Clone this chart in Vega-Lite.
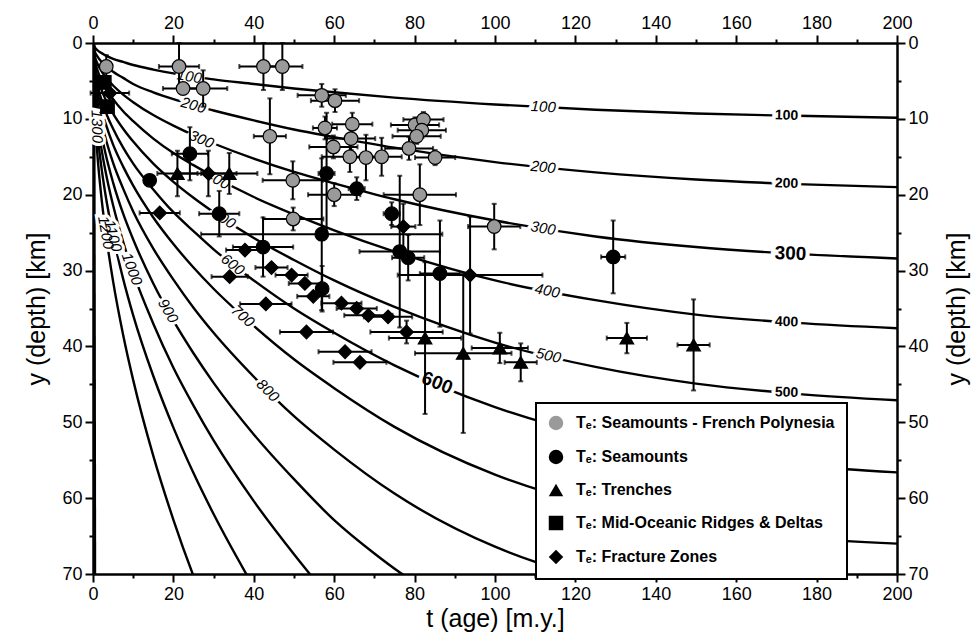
{
"$schema": "https://vega.github.io/schema/vega-lite/v6.json",
"width": 804, "height": 531,
"autosize": {"type": "none"},
"padding": {"left": 93, "top": 43, "right": 81, "bottom": 70},
"background": "white",
"config": {
 "view": {"stroke": null},
 "font": "Liberation Sans",
 "axis": {"domainColor": "black", "domainWidth": 2.5, "tickColor": "black", "tickWidth": 2, "labelColor": "black", "labelFont": "Liberation Sans", "labelFontSize": 18, "titleFont": "Liberation Sans", "titleFontSize": 25, "titleFontWeight": "normal", "titleColor": "black", "grid": false, "labelOverlap": false, "labelFlush": false, "labelPadding": 3},
 "legend": {"strokeColor": "black", "strokeWidth": 2, "fillColor": "white", "padding": 12, "rowPadding": 14, "labelFont": "Liberation Sans", "labelFontSize": 16, "labelFontWeight": "bold", "labelColor": "black", "symbolSize": 210, "symbolStrokeColor": "black", "symbolStrokeWidth": 1.2, "labelLimit": 400, "labelOffset": 12}
},
"datasets": {
 "curves": [
  {"T":100,"t":0,"d":0},{"T":100,"t":0.5,"d":0.6},{"T":100,"t":1,"d":0.9},{"T":100,"t":2,"d":1.3},{"T":100,"t":3,"d":1.6},{"T":100,"t":5,"d":2.1},{"T":100,"t":7.5,"d":2.5},{"T":100,"t":10,"d":2.9},{"T":100,"t":15,"d":3.5},{"T":100,"t":20,"d":4.0},{"T":100,"t":25,"d":4.4},{"T":100,"t":30,"d":4.8},{"T":100,"t":40,"d":5.4},{"T":100,"t":50,"d":6.0},{"T":100,"t":60,"d":6.5},{"T":100,"t":75,"d":7.2},{"T":100,"t":100,"d":8.1},{"T":100,"t":125,"d":8.8},{"T":100,"t":150,"d":9.3},{"T":100,"t":175,"d":9.6},{"T":100,"t":200,"d":9.85},
  {"T":200,"t":0,"d":0},{"T":200,"t":0.5,"d":1.2},{"T":200,"t":1,"d":1.7},{"T":200,"t":2,"d":2.4},{"T":200,"t":3,"d":2.9},{"T":200,"t":5,"d":3.8},{"T":200,"t":7.5,"d":4.6},{"T":200,"t":10,"d":5.4},{"T":200,"t":15,"d":6.5},{"T":200,"t":20,"d":7.4},{"T":200,"t":25,"d":8.2},{"T":200,"t":30,"d":8.9},{"T":200,"t":40,"d":10.2},{"T":200,"t":50,"d":11.4},{"T":200,"t":60,"d":12.4},{"T":200,"t":75,"d":13.8},{"T":200,"t":100,"d":15.7},{"T":200,"t":125,"d":17.05},{"T":200,"t":150,"d":18.0},{"T":200,"t":175,"d":18.6},{"T":200,"t":200,"d":19.0},
  {"T":300,"t":0,"d":0},{"T":300,"t":0.5,"d":1.8},{"T":300,"t":1,"d":2.6},{"T":300,"t":2,"d":3.6},{"T":300,"t":3,"d":4.4},{"T":300,"t":5,"d":5.6},{"T":300,"t":7.5,"d":6.8},{"T":300,"t":10,"d":7.8},{"T":300,"t":15,"d":9.5},{"T":300,"t":20,"d":10.9},{"T":300,"t":25,"d":12.15},{"T":300,"t":30,"d":13.25},{"T":300,"t":40,"d":15.25},{"T":300,"t":50,"d":17.0},{"T":300,"t":60,"d":18.5},{"T":300,"t":75,"d":20.6},{"T":300,"t":100,"d":23.4},{"T":300,"t":125,"d":25.5},{"T":300,"t":150,"d":26.9},{"T":300,"t":175,"d":27.8},{"T":300,"t":200,"d":28.4},
  {"T":400,"t":0,"d":0},{"T":400,"t":0.5,"d":2.4},{"T":400,"t":1,"d":3.4},{"T":400,"t":2,"d":4.8},{"T":400,"t":3,"d":5.8},{"T":400,"t":5,"d":7.4},{"T":400,"t":7.5,"d":9.0},{"T":400,"t":10,"d":10.3},{"T":400,"t":15,"d":12.6},{"T":400,"t":20,"d":14.5},{"T":400,"t":25,"d":16.1},{"T":400,"t":30,"d":17.6},{"T":400,"t":40,"d":20.3},{"T":400,"t":50,"d":22.6},{"T":400,"t":60,"d":24.7},{"T":400,"t":75,"d":27.5},{"T":400,"t":100,"d":31.3},{"T":400,"t":125,"d":33.9},{"T":400,"t":150,"d":35.8},{"T":400,"t":175,"d":36.9},{"T":400,"t":200,"d":37.6},
  {"T":500,"t":0,"d":0},{"T":500,"t":0.5,"d":3.0},{"T":500,"t":1,"d":4.3},{"T":500,"t":2,"d":6.0},{"T":500,"t":3,"d":7.3},{"T":500,"t":5,"d":9.3},{"T":500,"t":7.5,"d":11.3},{"T":500,"t":10,"d":13.0},{"T":500,"t":15,"d":15.9},{"T":500,"t":20,"d":18.3},{"T":500,"t":25,"d":20.4},{"T":500,"t":30,"d":22.3},{"T":500,"t":40,"d":25.7},{"T":500,"t":50,"d":28.6},{"T":500,"t":60,"d":31.3},{"T":500,"t":75,"d":34.8},{"T":500,"t":100,"d":39.5},{"T":500,"t":125,"d":42.7},{"T":500,"t":150,"d":44.9},{"T":500,"t":175,"d":46.25},{"T":500,"t":200,"d":47.1},
  {"T":600,"t":0,"d":0},{"T":600,"t":0.5,"d":3.7},{"T":600,"t":1,"d":5.2},{"T":600,"t":2,"d":7.3},{"T":600,"t":3,"d":8.9},{"T":600,"t":5,"d":11.3},{"T":600,"t":7.5,"d":13.8},{"T":600,"t":10,"d":15.9},{"T":600,"t":15,"d":19.3},{"T":600,"t":20,"d":22.3},{"T":600,"t":25,"d":24.8},{"T":600,"t":30,"d":27.2},{"T":600,"t":40,"d":31.3},{"T":600,"t":50,"d":35.0},{"T":600,"t":60,"d":38.2},{"T":600,"t":75,"d":42.5},{"T":600,"t":100,"d":48.0},{"T":600,"t":125,"d":51.8},{"T":600,"t":150,"d":54.2},{"T":600,"t":175,"d":55.7},{"T":600,"t":200,"d":56.6},
  {"T":700,"t":0,"d":0},{"T":700,"t":0.5,"d":4.4},{"T":700,"t":1,"d":6.1},{"T":700,"t":2,"d":8.6},{"T":700,"t":3,"d":10.4},{"T":700,"t":5,"d":13.4},{"T":700,"t":7.5,"d":16.3},{"T":700,"t":10,"d":18.8},{"T":700,"t":15,"d":23.0},{"T":700,"t":20,"d":26.5},{"T":700,"t":25,"d":29.6},{"T":700,"t":30,"d":32.4},{"T":700,"t":40,"d":37.3},{"T":700,"t":50,"d":41.7},{"T":700,"t":60,"d":45.5},{"T":700,"t":75,"d":50.6},{"T":700,"t":100,"d":56.9},{"T":700,"t":125,"d":61.0},{"T":700,"t":150,"d":63.6},{"T":700,"t":175,"d":65.2},{"T":700,"t":200,"d":66.0},
  {"T":800,"t":0,"d":0},{"T":800,"t":0.5,"d":5.1},{"T":800,"t":1,"d":7.2},{"T":800,"t":2,"d":10.1},{"T":800,"t":3,"d":12.3},{"T":800,"t":5,"d":15.8},{"T":800,"t":7.5,"d":19.2},{"T":800,"t":10,"d":22.2},{"T":800,"t":15,"d":27.1},{"T":800,"t":20,"d":31.2},{"T":800,"t":25,"d":34.9},{"T":800,"t":30,"d":38.2},{"T":800,"t":40,"d":44.0},{"T":800,"t":50,"d":49.2},{"T":800,"t":60,"d":53.6},{"T":800,"t":75,"d":59.4},{"T":800,"t":100,"d":66.4},{"T":800,"t":110,"d":68.4},{"T":800,"t":125,"d":70.7},{"T":800,"t":135,"d":71.9},
  {"T":900,"t":0,"d":0},{"T":900,"t":0.5,"d":5.9},{"T":900,"t":1,"d":8.3},{"T":900,"t":2,"d":11.7},{"T":900,"t":3,"d":14.3},{"T":900,"t":5,"d":18.4},{"T":900,"t":7.5,"d":22.5},{"T":900,"t":10,"d":25.9},{"T":900,"t":15,"d":31.7},{"T":900,"t":20,"d":36.6},{"T":900,"t":25,"d":40.9},{"T":900,"t":30,"d":44.8},{"T":900,"t":40,"d":51.6},{"T":900,"t":50,"d":57.5},{"T":900,"t":60,"d":62.9},{"T":900,"t":70,"d":67.3},{"T":900,"t":76.6,"d":69.9},{"T":900,"t":85,"d":72.7},
  {"T":1000,"t":0,"d":0},{"T":1000,"t":0.5,"d":6.8},{"T":1000,"t":1,"d":9.6},{"T":1000,"t":2,"d":13.6},{"T":1000,"t":3,"d":16.6},{"T":1000,"t":5,"d":21.4},{"T":1000,"t":7.5,"d":26.2},{"T":1000,"t":10,"d":30.3},{"T":1000,"t":15,"d":37.0},{"T":1000,"t":20,"d":42.8},{"T":1000,"t":25,"d":47.8},{"T":1000,"t":30,"d":52.4},{"T":1000,"t":40,"d":60.4},{"T":1000,"t":50,"d":67.4},{"T":1000,"t":57,"d":72.0},
  {"T":1100,"t":0,"d":0},{"T":1100,"t":0.5,"d":8.0},{"T":1100,"t":1,"d":11.35},{"T":1100,"t":2,"d":16.0},{"T":1100,"t":3,"d":19.65},{"T":1100,"t":5,"d":25.4},{"T":1100,"t":7.5,"d":31.1},{"T":1100,"t":10,"d":35.9},{"T":1100,"t":15,"d":43.9},{"T":1100,"t":20,"d":50.7},{"T":1100,"t":25,"d":56.7},{"T":1100,"t":30,"d":62.1},{"T":1100,"t":40,"d":71.75},
  {"T":1200,"t":0,"d":0},{"T":1200,"t":0.5,"d":9.94},{"T":1200,"t":1,"d":14.05},{"T":1200,"t":2,"d":19.88},{"T":1200,"t":3,"d":24.34},{"T":1200,"t":5,"d":31.43},{"T":1200,"t":7.5,"d":38.49},{"T":1200,"t":10,"d":44.44},{"T":1200,"t":15,"d":54.43},{"T":1200,"t":20,"d":62.85},{"T":1200,"t":25,"d":70.27},{"T":1200,"t":27,"d":73.0},
  {"T":1300,"t":0.3,"d":0},{"T":1300,"t":0.5,"d":70}
 ],
 "labels": [
  {"text":"100","t":24,"d":4.4,"slope_deg":9,"grp":"inline"},
  {"text":"200","t":25,"d":8.2,"slope_deg":16,"grp":"inline"},
  {"text":"300","t":27,"d":12.7,"slope_deg":23,"grp":"inline"},
  {"text":"400","t":31,"d":18.0,"slope_deg":28,"grp":"inline"},
  {"text":"500","t":32.5,"d":23.1,"slope_deg":33,"grp":"inline"},
  {"text":"600","t":34.8,"d":29.2,"slope_deg":38,"grp":"inline"},
  {"text":"700","t":37.3,"d":36.0,"slope_deg":42,"grp":"inline"},
  {"text":"800","t":43.5,"d":45.8,"slope_deg":45,"grp":"inline"},
  {"text":"900","t":18.7,"d":35.3,"slope_deg":60,"grp":"inline"},
  {"text":"1000","t":9.7,"d":29.8,"slope_deg":70,"grp":"inline"},
  {"text":"1100","t":5.0,"d":25.4,"slope_deg":76,"grp":"inline"},
  {"text":"1200","t":3.2,"d":25.0,"slope_deg":80,"grp":"inline"},
  {"text":"1300","t":1.0,"d":11.0,"slope_deg":88,"grp":"inline"},
  {"text":"100","t":112,"d":8.4,"slope_deg":3,"grp":"inline"},
  {"text":"200","t":112,"d":16.35,"slope_deg":6,"grp":"inline"},
  {"text":"300","t":112,"d":24.4,"slope_deg":9,"grp":"inline"},
  {"text":"400","t":113,"d":32.65,"slope_deg":11,"grp":"inline"},
  {"text":"500","t":113.3,"d":41.2,"slope_deg":13,"grp":"inline"},
  {"text":"600","t":85.6,"d":44.8,"slope_deg":22,"grp":"major"},
  {"text":"300","t":173.5,"d":27.75,"slope_deg":2,"grp":"major"},
  {"text":"100","t":172.5,"d":9.57,"slope_deg":2,"grp":"edge"},
  {"text":"200","t":172.5,"d":18.54,"slope_deg":2,"grp":"edge"},
  {"text":"400","t":172.5,"d":36.8,"slope_deg":2,"grp":"edge"},
  {"text":"500","t":172.5,"d":46.1,"slope_deg":2,"grp":"edge"}
 ],
 "obs": [
  {"type":"Seamounts - French Polynesia","t":3.3,"d":3.1,"ex":1,"ey":1.5},
  {"type":"Seamounts - French Polynesia","t":21.4,"d":3.1,"ex":5,"ey":3.1},
  {"type":"Seamounts - French Polynesia","t":42.4,"d":3.1,"ex":6,"ey":3.1},
  {"type":"Seamounts - French Polynesia","t":47.1,"d":3.1,"ex":5,"ey":3.1},
  {"type":"Seamounts - French Polynesia","t":22.4,"d":6.0,"ex":5,"ey":0},
  {"type":"Seamounts - French Polynesia","t":27.4,"d":6.0,"ex":6,"ey":2.4},
  {"type":"Seamounts - French Polynesia","t":56.9,"d":6.9,"ex":6,"ey":1.5},
  {"type":"Seamounts - French Polynesia","t":60.2,"d":7.6,"ex":6,"ey":1.5},
  {"type":"Seamounts - French Polynesia","t":57.7,"d":11.2,"ex":3,"ey":1.5},
  {"type":"Seamounts - French Polynesia","t":64.5,"d":10.7,"ex":5,"ey":1.5},
  {"type":"Seamounts - French Polynesia","t":64.2,"d":12.6,"ex":6,"ey":1.5},
  {"type":"Seamounts - French Polynesia","t":59.8,"d":13.7,"ex":6,"ey":1.5},
  {"type":"Seamounts - French Polynesia","t":63.9,"d":15.0,"ex":7,"ey":2},
  {"type":"Seamounts - French Polynesia","t":67.9,"d":15.1,"ex":5,"ey":3},
  {"type":"Seamounts - French Polynesia","t":71.8,"d":15.0,"ex":5,"ey":2.5},
  {"type":"Seamounts - French Polynesia","t":78.6,"d":13.9,"ex":6,"ey":1.5},
  {"type":"Seamounts - French Polynesia","t":80.1,"d":10.8,"ex":6,"ey":1},
  {"type":"Seamounts - French Polynesia","t":82.2,"d":10.1,"ex":5,"ey":1},
  {"type":"Seamounts - French Polynesia","t":81.8,"d":11.5,"ex":6,"ey":1},
  {"type":"Seamounts - French Polynesia","t":80.5,"d":12.3,"ex":6,"ey":1},
  {"type":"Seamounts - French Polynesia","t":85.1,"d":15.1,"ex":5,"ey":1},
  {"type":"Seamounts - French Polynesia","t":44.0,"d":12.3,"ex":4,"ey":5},
  {"type":"Seamounts - French Polynesia","t":49.7,"d":18.1,"ex":7.5,"ey":2.5},
  {"type":"Seamounts - French Polynesia","t":60.0,"d":20.0,"ex":6.5,"ey":1.5},
  {"type":"Seamounts - French Polynesia","t":81.3,"d":20.0,"ex":9,"ey":4},
  {"type":"Seamounts - French Polynesia","t":49.8,"d":23.2,"ex":7.5,"ey":1.5},
  {"type":"Seamounts - French Polynesia","t":99.8,"d":24.2,"ex":6.5,"ey":3},
  {"type":"Seamounts","t":14.1,"d":18.1,"ex":0,"ey":0},
  {"type":"Seamounts","t":24.1,"d":14.6,"ex":4.5,"ey":3.5},
  {"type":"Seamounts","t":31.4,"d":22.5,"ex":5,"ey":3},
  {"type":"Seamounts","t":42.3,"d":26.9,"ex":7.5,"ey":3.9},
  {"type":"Seamounts","t":56.9,"d":25.2,"ex":30,"ey":10},
  {"type":"Seamounts","t":57.0,"d":32.4,"ex":0,"ey":3},
  {"type":"Seamounts","t":58.1,"d":17.2,"ex":2,"ey":8},
  {"type":"Seamounts","t":65.6,"d":19.2,"ex":2,"ey":1.5},
  {"type":"Seamounts","t":74.3,"d":22.5,"ex":2,"ey":1.5},
  {"type":"Seamounts","t":76.3,"d":27.5,"ex":10,"ey":10},
  {"type":"Seamounts","t":78.4,"d":28.3,"ex":4,"ey":3},
  {"type":"Seamounts","t":86.3,"d":30.4,"ex":5,"ey":7},
  {"type":"Seamounts","t":129.4,"d":28.2,"ex":3,"ey":4.8},
  {"type":"Trenches","t":21.0,"d":17.2,"ex":5,"ey":3},
  {"type":"Trenches","t":33.9,"d":17.2,"ex":7,"ey":2.7},
  {"type":"Trenches","t":82.6,"d":38.9,"ex":9,"ey":10},
  {"type":"Trenches","t":92.1,"d":40.9,"ex":12,"ey":10.5},
  {"type":"Trenches","t":101.2,"d":40.2,"ex":7,"ey":2},
  {"type":"Trenches","t":106.4,"d":42.1,"ex":4,"ey":2.5},
  {"type":"Trenches","t":132.8,"d":38.9,"ex":5,"ey":2},
  {"type":"Trenches","t":149.4,"d":39.8,"ex":4,"ey":6},
  {"type":"Mid-Oceanic Ridges & Deltas","t":2.8,"d":5.2,"ex":0,"ey":0},
  {"type":"Mid-Oceanic Ridges & Deltas","t":3.6,"d":8.4,"ex":0,"ey":0},
  {"type":"Fracture Zones","t":4.2,"d":6.6,"ex":4.8,"ey":0},
  {"type":"Fracture Zones","t":16.6,"d":22.4,"ex":5,"ey":0},
  {"type":"Fracture Zones","t":28.7,"d":17.2,"ex":7,"ey":3},
  {"type":"Fracture Zones","t":37.8,"d":27.3,"ex":4.7,"ey":0},
  {"type":"Fracture Zones","t":34.0,"d":30.8,"ex":4.5,"ey":0},
  {"type":"Fracture Zones","t":44.4,"d":29.6,"ex":4,"ey":0},
  {"type":"Fracture Zones","t":49.4,"d":30.6,"ex":4,"ey":0},
  {"type":"Fracture Zones","t":52.7,"d":31.7,"ex":4,"ey":0},
  {"type":"Fracture Zones","t":54.8,"d":33.4,"ex":4,"ey":0},
  {"type":"Fracture Zones","t":43.0,"d":34.4,"ex":6.4,"ey":0},
  {"type":"Fracture Zones","t":61.8,"d":34.3,"ex":5,"ey":0},
  {"type":"Fracture Zones","t":65.6,"d":35.0,"ex":5,"ey":0},
  {"type":"Fracture Zones","t":68.5,"d":35.9,"ex":6,"ey":0},
  {"type":"Fracture Zones","t":73.4,"d":36.1,"ex":6,"ey":0},
  {"type":"Fracture Zones","t":53.1,"d":38.1,"ex":6.6,"ey":0},
  {"type":"Fracture Zones","t":62.7,"d":40.7,"ex":6.6,"ey":0},
  {"type":"Fracture Zones","t":66.4,"d":42.1,"ex":6.6,"ey":0},
  {"type":"Fracture Zones","t":78.0,"d":38.1,"ex":9,"ey":1.5},
  {"type":"Fracture Zones","t":77.2,"d":24.2,"ex":3,"ey":3},
  {"type":"Fracture Zones","t":93.8,"d":30.6,"ex":18,"ey":7.7}
 ]
},
"layer": [
 {
  "data": {"name": "curves"},
  "mark": {"type": "line", "color": "black", "strokeWidth": 2.4, "interpolate": "monotone", "clip": true},
  "encoding": {
   "x": {"field": "t", "type": "quantitative", "scale": {"domain": [0, 200], "nice": false, "zero": false},
    "axis": {"orient": "bottom", "title": "t (age) [m.y.]", "values": [0,10,20,30,40,50,60,70,80,90,100,110,120,130,140,150,160,170,180,190,200], "labelExpr": "datum.value % 20 === 0 ? datum.label : ''", "tickSize": {"condition": {"test": "datum.value % 20 === 0", "value": 8}, "value": 4}, "titlePadding": 3}},
   "y": {"field": "d", "type": "quantitative", "scale": {"domain": [0, 70], "reverse": true, "nice": false, "zero": false},
    "axis": {"orient": "left", "title": "y (depth) [km]", "values": [0,5,10,15,20,25,30,35,40,45,50,55,60,65,70], "labelExpr": "datum.value % 10 === 0 ? datum.label : ''", "tickSize": {"condition": {"test": "datum.value % 10 === 0", "value": 8}, "value": 4}, "titlePadding": 12}},
   "detail": {"field": "T", "type": "nominal"}
  }
 },
 {
  "data": {"name": "labels"},
  "transform": [{"filter": "datum.grp === 'inline'"}],
  "mark": {"type": "text", "fill": "white", "stroke": "white", "strokeWidth": 6, "fontSize": 15, "fontStyle": "italic", "font": "Liberation Sans", "align": "center", "baseline": "middle"},
  "encoding": {
   "x": {"field": "t", "type": "quantitative", "scale": {"domain": [0, 200], "nice": false, "zero": false},
    "axis": {"orient": "top", "title": null, "values": [0,10,20,30,40,50,60,70,80,90,100,110,120,130,140,150,160,170,180,190,200], "labelExpr": "datum.value % 20 === 0 ? datum.label : ''", "tickSize": {"condition": {"test": "datum.value % 20 === 0", "value": 8}, "value": 4}}},
   "y": {"field": "d", "type": "quantitative", "scale": {"domain": [0, 70], "reverse": true, "nice": false, "zero": false},
    "axis": {"orient": "right", "title": "y (depth) [km]", "titleAngle": 270, "titleBaseline": "top", "titlePadding": 16, "values": [0,5,10,15,20,25,30,35,40,45,50,55,60,65,70], "labelExpr": "datum.value % 10 === 0 ? datum.label : ''", "tickSize": {"condition": {"test": "datum.value % 10 === 0", "value": 8}, "value": 4}}},
   "text": {"field": "text"},
   "angle": {"field": "slope_deg", "type": "quantitative", "scale": null}
  }
 },
 {
  "data": {"name": "labels"},
  "transform": [{"filter": "datum.grp === 'inline'"}],
  "mark": {"type": "text", "fill": "black", "fontSize": 15, "fontStyle": "italic", "font": "Liberation Sans", "align": "center", "baseline": "middle"},
  "encoding": {
   "x": {"field": "t", "type": "quantitative", "scale": {"domain": [0, 200], "nice": false, "zero": false}, "axis": null},
   "y": {"field": "d", "type": "quantitative", "scale": {"domain": [0, 70], "reverse": true, "nice": false, "zero": false}, "axis": null},
   "text": {"field": "text"},
   "angle": {"field": "slope_deg", "type": "quantitative", "scale": null}
  }
 },
 {
  "data": {"name": "labels"},
  "transform": [{"filter": "datum.grp === 'edge'"}],
  "mark": {"type": "text", "fill": "white", "stroke": "white", "strokeWidth": 7, "fontSize": 14, "fontWeight": "bold", "font": "Liberation Sans", "align": "center", "baseline": "middle"},
  "encoding": {
   "x": {"field": "t", "type": "quantitative", "scale": {"domain": [0, 200], "nice": false, "zero": false}, "axis": null},
   "y": {"field": "d", "type": "quantitative", "scale": {"domain": [0, 70], "reverse": true, "nice": false, "zero": false}, "axis": null},
   "text": {"field": "text"},
   "angle": {"field": "slope_deg", "type": "quantitative", "scale": null}
  }
 },
 {
  "data": {"name": "labels"},
  "transform": [{"filter": "datum.grp === 'edge'"}],
  "mark": {"type": "text", "fill": "black", "fontSize": 14, "fontWeight": "bold", "font": "Liberation Sans", "align": "center", "baseline": "middle"},
  "encoding": {
   "x": {"field": "t", "type": "quantitative", "scale": {"domain": [0, 200], "nice": false, "zero": false}, "axis": null},
   "y": {"field": "d", "type": "quantitative", "scale": {"domain": [0, 70], "reverse": true, "nice": false, "zero": false}, "axis": null},
   "text": {"field": "text"},
   "angle": {"field": "slope_deg", "type": "quantitative", "scale": null}
  }
 },
 {
  "data": {"name": "labels"},
  "transform": [{"filter": "datum.grp === 'major'"}],
  "mark": {"type": "text", "fill": "white", "stroke": "white", "strokeWidth": 8, "fontSize": 19, "fontWeight": "bold", "font": "Liberation Sans", "align": "center", "baseline": "middle"},
  "encoding": {
   "x": {"field": "t", "type": "quantitative", "scale": {"domain": [0, 200], "nice": false, "zero": false}, "axis": null},
   "y": {"field": "d", "type": "quantitative", "scale": {"domain": [0, 70], "reverse": true, "nice": false, "zero": false}, "axis": null},
   "text": {"field": "text"},
   "angle": {"field": "slope_deg", "type": "quantitative", "scale": null}
  }
 },
 {
  "data": {"name": "labels"},
  "transform": [{"filter": "datum.grp === 'major'"}],
  "mark": {"type": "text", "fill": "black", "fontSize": 19, "fontWeight": "bold", "font": "Liberation Sans", "align": "center", "baseline": "middle"},
  "encoding": {
   "x": {"field": "t", "type": "quantitative", "scale": {"domain": [0, 200], "nice": false, "zero": false}, "axis": null},
   "y": {"field": "d", "type": "quantitative", "scale": {"domain": [0, 70], "reverse": true, "nice": false, "zero": false}, "axis": null},
   "text": {"field": "text"},
   "angle": {"field": "slope_deg", "type": "quantitative", "scale": null}
  }
 },
 {
  "data": {"name": "obs"},
  "transform": [{"filter": "datum.ex > 0"}],
  "mark": {"type": "errorbar", "ticks": true, "color": "black", "thickness": 2},
  "encoding": {
   "x": {"field": "t", "type": "quantitative", "scale": {"domain": [0, 200], "nice": false, "zero": false}, "axis": null},
   "xError": {"field": "ex"},
   "y": {"field": "d", "type": "quantitative", "scale": {"domain": [0, 70], "reverse": true, "nice": false, "zero": false}, "axis": null}
  }
 },
 {
  "data": {"name": "obs"},
  "transform": [{"filter": "datum.ey > 0"}],
  "mark": {"type": "errorbar", "ticks": true, "color": "black", "thickness": 2},
  "encoding": {
   "x": {"field": "t", "type": "quantitative", "scale": {"domain": [0, 200], "nice": false, "zero": false}, "axis": null},
   "y": {"field": "d", "type": "quantitative", "scale": {"domain": [0, 70], "reverse": true, "nice": false, "zero": false}, "axis": null},
   "yError": {"field": "ey"}
  }
 },
 {
  "data": {"name": "obs"},
  "mark": {"type": "point", "filled": true, "size": 185, "stroke": "black", "strokeWidth": 1.2, "opacity": 1},
  "encoding": {
   "x": {"field": "t", "type": "quantitative", "scale": {"domain": [0, 200], "nice": false, "zero": false}, "axis": null},
   "y": {"field": "d", "type": "quantitative", "scale": {"domain": [0, 70], "reverse": true, "nice": false, "zero": false}, "axis": null},
   "shape": {"field": "type", "type": "nominal",
    "scale": {"domain": ["Seamounts - French Polynesia", "Seamounts", "Trenches", "Mid-Oceanic Ridges & Deltas", "Fracture Zones"], "range": ["circle", "circle", "triangle-up", "square", "diamond"]},
    "legend": {"orient": "none", "legendX": 443, "legendY": 360, "title": null, "labelExpr": "'Tₑ: ' + datum.label"}},
   "fill": {"field": "type", "type": "nominal",
    "scale": {"domain": ["Seamounts - French Polynesia", "Seamounts", "Trenches", "Mid-Oceanic Ridges & Deltas", "Fracture Zones"], "range": ["#9a9a9a", "black", "black", "black", "black"]},
    "legend": {"orient": "none", "legendX": 443, "legendY": 360, "title": null, "labelExpr": "'Tₑ: ' + datum.label"}}
  }
 }
]
}
